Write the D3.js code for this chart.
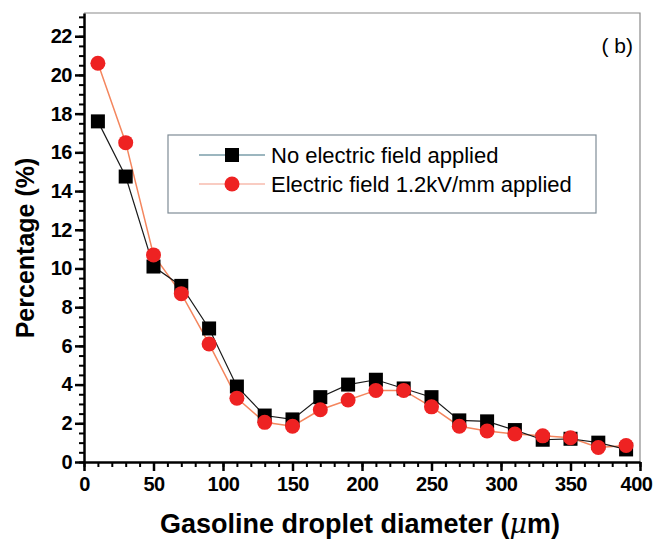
<!DOCTYPE html>
<html>
<head>
<meta charset="utf-8">
<script src="https://cdnjs.cloudflare.com/ajax/libs/d3/7.8.5/d3.min.js"></script>
<style>
  body { margin: 0; background: #fff; }
  text { font-family: "Liberation Sans", Arial, sans-serif; }
</style>
</head>
<body>
<svg id="chart" width="655" height="540"></svg>
<script>
// droplet diameter bins (um)
const diameters = [10, 30, 50, 70, 90, 110, 130, 150, 170, 190, 210, 230, 250, 270, 290, 310, 330, 350, 370, 390]
// percentage, no field
const noField = [17.6, 14.75, 10.1, 9.1, 6.9, 3.9, 2.4, 2.2, 3.35, 4.0, 4.25, 3.8, 3.35, 2.15, 2.1, 1.65, 1.15, 1.2, 1.0, 0.65]
// percentage, 1.2 kV/mm
const withField = [20.6, 16.5, 10.7, 8.7, 6.1, 3.3, 2.05, 1.85, 2.7, 3.2, 3.7, 3.7, 2.85, 1.85, 1.6, 1.45, 1.35, 1.25, 0.75, 0.85]
const xTicks = [0, 50, 100, 150, 200, 250, 300, 350, 400]
const yTicks = [0, 2, 4, 6, 8, 10, 12, 14, 16, 18, 20, 22]
const legendLabels = ['No electric field applied', 'Electric field 1.2kV/mm applied']

const margin = {left: 84, right: 15, top: 13, bottom: 78}
const width = 655 - margin.left - margin.right
const height = 540 - margin.top - margin.bottom

const svg = d3.select('#chart')
const chart = svg.append('g')
  .attr('transform', `translate(${margin.left}, ${margin.top})`)

const xScale = d3.scaleLinear().domain([0, 400]).range([0, width])
const yScale = d3.scaleLinear().domain([0, 23.2]).range([height, 0])

// frame (top + right)
chart.append('path')
  .attr('d', `M0,0H${width}V${height}`)
  .attr('fill', 'none')
  .attr('stroke', '#8a8a8a')
  .attr('stroke-width', 1.2)

// minor ticks
chart.append('g')
  .attr('transform', `translate(0, ${height})`)
  .call(d3.axisBottom(xScale).tickValues(d3.range(0, 401, 10)).tickSize(5).tickFormat(''))
  .call(g => g.selectAll('line').attr('stroke-width', 2))
  .call(g => g.select('.domain').remove())
chart.append('g')
  .call(d3.axisLeft(yScale).tickValues(d3.range(0, 23.01, 0.5)).tickSize(5).tickFormat(''))
  .call(g => g.selectAll('line').attr('stroke-width', 2))
  .call(g => g.select('.domain').remove())

// major axes
const xAxis = chart.append('g')
  .attr('transform', `translate(0, ${height})`)
  .call(d3.axisBottom(xScale).tickValues(xTicks).tickSize(9).tickPadding(6).tickSizeOuter(0))
xAxis.select('.domain').attr('stroke-width', 2.5)
xAxis.selectAll('line').attr('stroke-width', 2.5)
xAxis.selectAll('text')
  .attr('font-size', 20).attr('font-weight', 'bold').attr('fill', '#000')
  .attr('letter-spacing', -0.5)
// keep the last label inside the page
xAxis.selectAll('.tick').filter(d => d === 400).select('text').attr('dx', -4)

const yAxis = chart.append('g')
  .call(d3.axisLeft(yScale).tickValues(yTicks).tickSize(9).tickPadding(3).tickSizeOuter(0))
yAxis.select('.domain').attr('stroke-width', 2.5)
yAxis.selectAll('line').attr('stroke-width', 2.5)
yAxis.selectAll('text')
  .attr('font-size', 20).attr('font-weight', 'bold').attr('fill', '#000')
  .attr('letter-spacing', -0.5)

// axis titles
svg.append('text')
  .attr('x', margin.left + width / 2 - 2)
  .attr('y', 533)
  .attr('text-anchor', 'middle')
  .attr('font-size', 27).attr('font-weight', 'bold')
  .html('Gasoline droplet diameter (<tspan font-style="italic" font-family="DejaVu Serif" font-weight="normal">μ</tspan>m)')

svg.append('text')
  .attr('transform', 'translate(34, 248) rotate(-90)')
  .attr('text-anchor', 'middle')
  .attr('font-size', 25).attr('font-weight', 'bold')
  .text('Percentage (%)')

svg.append('text')
  .attr('x', 633).attr('y', 53)
  .attr('text-anchor', 'end')
  .attr('font-size', 21)
  .text('( b)')

const line = d3.line()
  .x(d => xScale(d[0]))
  .y(d => yScale(d[1]))

const black = diameters.map((d, i) => [d, noField[i]])
const red = diameters.map((d, i) => [d, withField[i]])

chart.append('path')
  .datum(red)
  .attr('d', line)
  .attr('fill', 'none')
  .attr('stroke', '#f4865e')
  .attr('stroke-width', 1.5)

chart.append('path')
  .datum(black)
  .attr('d', line)
  .attr('fill', 'none')
  .attr('stroke', '#1a1a1a')
  .attr('stroke-width', 1.2)

chart.selectAll('.sq')
  .data(black)
  .enter()
  .append('rect')
  .attr('x', d => xScale(d[0]) - 7)
  .attr('y', d => yScale(d[1]) - 7)
  .attr('width', 14)
  .attr('height', 14)
  .attr('fill', '#000')

chart.selectAll('.dot')
  .data(red)
  .enter()
  .append('circle')
  .attr('cx', d => xScale(d[0]))
  .attr('cy', d => yScale(d[1]))
  .attr('r', 7.5)
  .attr('fill', '#ee2222')

// legend
const legend = svg.append('g').attr('transform', 'translate(168, 135)')
legend.append('rect')
  .attr('width', 428).attr('height', 78)
  .attr('fill', '#fff')
  .attr('stroke', '#7f8c96')
  .attr('stroke-width', 1.2)

legendLabels.forEach((label, i) => {
  const y = 20 + i * 29
  legend.append('line')
    .attr('x1', 31).attr('x2', 97).attr('y1', y).attr('y2', y)
    .attr('stroke', i === 0 ? '#3b6f80' : '#f49a86')
    .attr('stroke-width', 1.2)
  if (i === 0) {
    legend.append('rect').attr('x', 57).attr('y', y - 7).attr('width', 14).attr('height', 14).attr('fill', '#000')
  } else {
    legend.append('circle').attr('cx', 64).attr('cy', y).attr('r', 7.5).attr('fill', '#ee2222')
  }
  legend.append('text')
    .attr('x', 103).attr('y', y + 8)
    .attr('font-size', 22)
    .text(label)
})
</script>
</body>
</html>
